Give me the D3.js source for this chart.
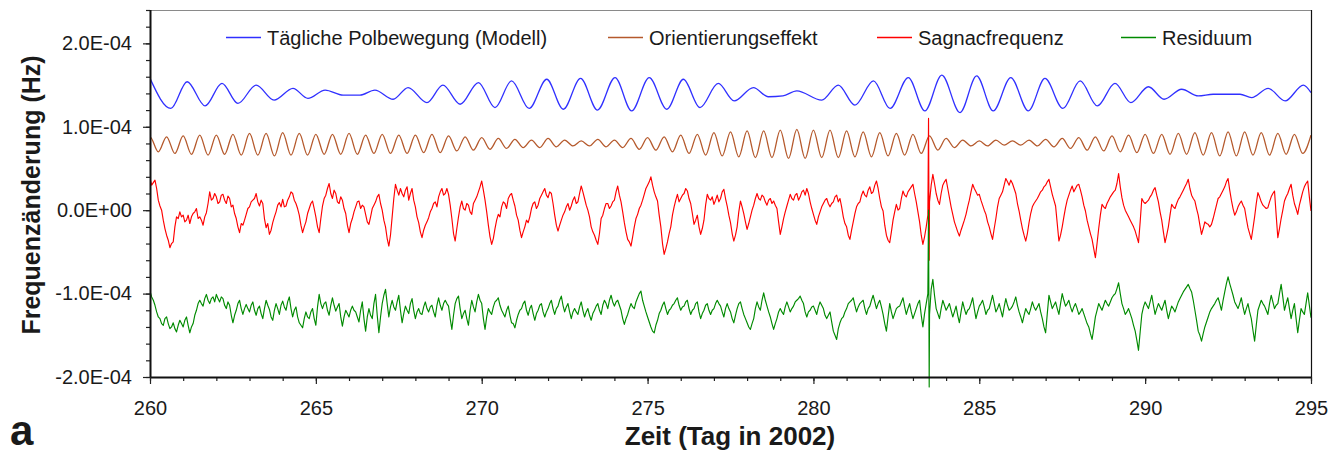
<!DOCTYPE html>
<html>
<head>
<meta charset="utf-8">
<script src="https://cdn.jsdelivr.net/npm/d3@7"></script>
<style>
  body { margin: 0; background: #fff; }
  text { font-family: "Liberation Sans", Arial, sans-serif; fill: #1a1a1a; }
</style>
</head>
<body>
<script>
// values in 1e-6 Hz
const legendLabels = ["Tägliche Polbewegung (Modell)", "Orientierungseffekt", "Sagnacfrequenz", "Residuum"];
const seriesColors = ["#3030ff", "#b5592c", "#ff0000", "#008a00"];

const xMajor = [260, 265, 270, 275, 280, 285, 290, 295];
const yMajor = [-200, -100, 0, 100, 200];

// daily polar motion: extrema
const blueDays = [260.00, 260.63, 261.12, 261.66, 262.17, 262.65, 263.20, 263.74, 264.31, 264.76,
  265.28, 265.82, 266.33, 266.78, 267.33, 267.78, 268.35, 268.83, 269.35, 269.90,
  270.40, 270.90, 271.43, 271.96, 272.46, 272.98, 273.49, 274.02, 274.52, 275.05,
  275.58, 276.08, 276.58, 277.13, 277.61, 278.19, 278.64, 279.08, 279.50, 280.25,
  280.75, 281.25, 281.81, 282.31, 282.86, 283.36, 283.87, 284.42, 284.92, 285.42,
  285.95, 286.48, 286.98, 287.52, 288.04, 288.56, 289.09, 289.57, 290.10, 290.57,
  291.10, 291.60, 292.05, 292.86, 293.21, 293.71, 294.22, 294.77, 295.00];
const blueVals = [158, 122, 154, 125, 152, 128, 150, 132, 146, 134,
  144, 138, 138, 144, 133, 147, 129, 150, 127, 153,
  123, 155, 122, 157, 121, 158, 120, 159, 119, 159,
  121, 157, 123, 152, 131, 147, 136, 137, 143, 132,
  150, 126, 155, 122, 159, 119, 162, 117, 161, 119,
  159, 119, 158, 122, 155, 125, 152, 129, 148, 133,
  145, 137, 139, 139, 135, 146, 131, 150, 141];

// orientation effect: alternating troughs / peaks every quarter day from 259.75
const brownStart = 259.75;
const brownStep = 0.25;
const brownVals = [70, 88,
  70, 88, 68, 89,  67, 90, 66, 90,  67, 91, 66, 92,  66, 92, 65, 93,  66, 92, 66, 91,
  67, 91, 67, 92,  67, 90, 68, 91,  68, 90, 68, 90,  69, 91, 69, 89,  71, 88, 72, 87,
  73, 86, 74, 85,  75, 84, 75, 86,  76, 84, 77, 83,  77, 85, 76, 84,  75, 86, 73, 87,
  72, 88, 70, 90,  68, 91, 66, 93,  65, 94, 64, 95,  63, 95, 63, 96,  62, 97, 62, 96,
  63, 96, 63, 95,  64, 94, 64, 93,  65, 92, 66, 91,  68, 89, 72, 86,  75, 84, 77, 83,
  77, 84, 78, 83,  78, 84, 77, 85,  76, 86, 74, 87,  72, 88, 71, 89,  70, 90, 69, 91,
  68, 91, 67, 92,  67, 93, 66, 93,  65, 94, 65, 94,  66, 93, 66, 92,  67, 91, 68, 90];

// measured series: samples every 0.1 day from day 260, plus the in-between samples
const sampleStart = 260;
const sampleStep = 0.1;
const redVals = [
  38, 33, 26, 5, -12, -30, -45, -38, -8, -2,
  -6, -12, -16, -4, 2, -8, -18, -3, 22, 14,
  16, 10, 19, 8, 14, 6, -10, -27, -18, -5,
  4, 12, 20, 5, 8, -21, -29, -15, -2, 9,
  13, 5, 16, 20, 8, -6, -27, -14, 2, 11,
  -8, -27, 5, 18, 32, 14, 20, 8, 12, -4,
  -27, -10, 4, 11, 6, -5, -17, 2, 10, 19,
  0, -20, -43, -8, 31, 18, 20, 24, 12, 26,
  4, -15, -33, -18, -9, 2, 10, 16, 26, 20,
  19, -10, -37, -8, 11, 0, 6, -5, 12, 22,
  35, 12, -18, -41, -22, -5, 4, 8, 14, 20,
  5, -12, -33, -20, -15, 2, 10, 6, 18, 26,
  15, 20, -6, -25, -12, -2, 8, 5, 16, 10,
  29, 14, 0, -20, -30, -41, -10, 2, 8, 5,
  12, 29, 10, -15, -35, -43, -20, -5, 6, 19,
  30, 40, 22, 11, -20, -53, -38, -20, 4, 19,
  14, 20, 23, 8, -17, -6, -29, -12, 19, 12,
  7, 18, 14, 25, 5, -15, -37, -20, 11, -4,
  -23, -8, 6, 20, 12, 16, 6, 14, 11, 2,
  -29, -10, 5, 19, 12, 20, 16, 24, 26, 10,
  -5, -17, -2, 8, 14, 4, 10, 18, 14, -8,
  -20, -35, -14, 4, 10, 23, 16, 28, 22, 35,
  14, -1, -30, -39, -12, 7, 2, 23, 16, 25,
  31, 10, -14, -41, -20, 10, 43, 20, 7, 30,
  37, 15, -5, -20, -31, -18, -5, 12, 31, 22,
  19, 6, -5, -20, -35, -10, 14, 22, 38, 30,
  32, 20, -1, -22, -37, -15, 4, 11, 18, 24,
  30, 37, 19, 5, -37, -20, 3, 18, 29, 26,
  31, 16, -1, -20, -35, -57, -22, 7, 2, 12,
  19, 24, 44, 15, 0, -8, -16, -25, -39, 14,
  8, 12, 19, 27, 10, -12, -39, -20, 7, 2,
  13, 20, 28, 37, 18, 11, -6, -29, -14, -17,
  -17, -2, 14, 20, 28, 38, 12, -6, 4, 11,
  2, -21, -35, -8, 21, 10, 4, 3, 16, 23,
  -33, -10, 11, 20, 31, 8, -5, 14, 28, 35,
  -1];
const redMid = [
  30, 36, 12, 0, -22, -36, -40, -20, -10, -8,
  -14, -6, -8, -2, -10, -12, -8, 8, 12, 20,
  8, 18, 12, 17, 4, -4, -20, -16, -12, 2,
  10, 14, 10, 12, -10, -16, -24, -8, 6, 4,
  4, 12, 22, 12, 2, -18, -20, -4, 8, 2,
  -20, -10, 14, 26, 20, 24, 10, 16, 2, -18,
  -16, -2, 10, 2, 4, -14, -8, 6, 16, 8,
  -12, -34, -30, 14, 24, 26, 16, 28, 20, 12,
  -8, -26, -24, -14, -2, 8, 4, 22, 18, 26,
  6, -28, -22, 4, 2, 8, -2, 8, 16, 28,
  24, -2, -32, -34, -12, -8, 10, 2, 18, 12,
  -6, -24, -26, -12, -8, 8, 2, 14, 22, 18,
  22, 8, -18, -18, -6, 4, 0, 12, 8, 20,
  22, 6, -8, -26, -36, -28, -6, 8, 2, 10,
  22, 18, -2, -26, -38, -32, -10, 2, 12, 26,
  34, 30, 16, -6, -40, -46, -28, -6, 12, 10,
  18, 26, 14, -4, -12, -20, -22, 6, 14, 16,
  12, 10, 22, 14, -6, -28, -30, -2, 4, -14,
  -16, 0, 14, 14, 18, 10, 12, 8, 6, -14,
  -20, -2, 12, 14, 18, 12, 22, 18, 20, 2,
  -12, -8, 4, 12, 8, 8, 16, 10, 4, -16,
  -30, -24, -4, 8, 18, 18, 24, 20, 30, 26,
  4, -18, -36, -26, -2, 0, 14, 18, 22, 28,
  20, -2, -30, -32, -6, 30, 32, 12, 20, 34,
  26, 4, -14, -26, -24, -12, 4, 22, 26, 18,
  12, 0, -14, -28, -22, 4, 18, 30, 34, 36,
  26, 8, -12, -30, -28, -4, 8, 14, 22, 28,
  34, 28, 12, -16, -30, -8, 12, 24, 22, 30,
  24, 6, -12, -28, -46, -40, -6, 4, 8, 16,
  22, 32, 28, 6, -4, -12, -20, -32, -14, 10,
  10, 16, 24, 18, -2, -26, -30, -6, 4, 8,
  16, 24, 32, 26, 14, 2, -18, -22, -16, -20,
  -10, 6, 16, 24, 34, 24, 2, -2, 8, 6,
  -10, -28, -22, 8, 16, 6, 2, 10, 20, -6,
  -22, 0, 16, 26, 18, 2, 6, 22, 32, 16];
const greenVals = [
  -97, -108, -122, -130, -138, -128, -142, -135, -146, -132,
  -140, -128, -147, -136, -120, -108, -115, -101, -112, -104,
  -101, -110, -106, -118, -114, -135, -120, -108, -125, -113,
  -122, -110, -126, -115, -130, -108, -119, -132, -112, -125,
  -109, -120, -104, -128, -116, -135, -141, -122, -130, -118,
  -138, -101, -118, -110, -126, -105, -121, -112, -139, -120,
  -128, -115, -122, -134, -110, -145, -118, -130, -101, -147,
  -112, -95, -128, -108, -120, -102, -135, -115, -124, -106,
  -130, -118, -125, -110, -122, -114, -128, -105, -120, -108,
  -115, -143, -112, -103, -130, -120, -138, -108, -122, -101,
  -112, -143, -118, -125, -110, -105, -120, -128, -115, -135,
  -141, -125, -118, -109, -126, -114, -132, -120, -112, -128,
  -118, -108, -125, -115, -103, -122, -112, -130, -118, -125,
  -110, -128, -118, -132, -120, -112, -125, -108, -118, -102,
  -115, -108, -120, -137, -125, -112, -118, -105, -97, -115,
  -128, -140, -147, -132, -120, -110, -125, -118, -112, -105,
  -120, -115, -108, -125, -118, -110, -130, -120, -112, -125,
  -118, -108, -115, -128, -112, -122, -135, -118, -110, -125,
  -135, -143, -130, -110, -120, -99, -115, -128, -143, -130,
  -118, -125, -110, -122, -115, -108, -103, -112, -128, -120,
  -115, -125, -110, -118, -130, -122, -145, -155, -135, -128,
  -118, -110, -105, -122, -112, -108, -125, -115, -102, -118,
  -108, -125, -145, -112, -130, -118, -115, -105, -125, -112,
  -130, -118, -108, -140, -112, -125, -83, -118, -130, -108,
  -120, -112, -128, -115, -135, -110, -125, -118, -105, -130,
  -115, -108, -125, -118, -102, -122, -112, -128, -106, -120,
  -115, -104, -122, -135, -118, -125, -110, -120, -112, -130,
  -147, -102, -118, -110, -125, -100, -115, -108, -122, -112,
  -125, -118, -130, -140, -155, -128, -112, -120, -108, -115,
  -105, -100, -87, -112, -125, -118, -130, -145, -168, -125,
  -110, -118, -102, -125, -112, -120, -108, -130, -115, -122,
  -110, -102, -95, -89, -98, -120, -145, -157, -140, -128,
  -118, -112, -105, -120, -98, -80, -95, -110, -118, -105,
  -125, -112, -130, -157, -120, -108, -115, -125, -102, -118,
  -112, -89, -120, -105, -130, -112, -147, -118, -125, -99,
  -129];
const greenMid = [
  -104, -114, -128, -136, -130, -136, -140, -142, -138, -136,
  -132, -138, -140, -126, -112, -112, -106, -108, -106, -110,
  -106, -104, -114, -110, -126, -126, -112, -118, -118, -118,
  -114, -120, -118, -124, -118, -114, -128, -120, -118, -114,
  -116, -110, -118, -120, -128, -138, -130, -128, -122, -130,
  -116, -112, -112, -120, -114, -114, -116, -128, -128, -124,
  -120, -120, -128, -120, -130, -128, -126, -112, -126, -128,
  -102, -112, -116, -116, -110, -120, -124, -120, -112, -120,
  -122, -124, -116, -118, -116, -122, -114, -114, -112, -112,
  -130, -126, -106, -118, -124, -130, -120, -116, -110, -108,
  -130, -128, -122, -116, -108, -114, -124, -120, -126, -136,
  -132, -120, -112, -120, -118, -124, -124, -114, -122, -122,
  -112, -118, -118, -108, -114, -116, -122, -122, -122, -116,
  -120, -122, -126, -124, -115, -120, -114, -112, -108, -110,
  -110, -114, -130, -130, -118, -116, -110, -100, -108, -122,
  -134, -145, -138, -124, -114, -118, -120, -114, -108, -114,
  -116, -110, -118, -120, -112, -122, -124, -114, -120, -120,
  -112, -112, -122, -118, -118, -130, -126, -112, -118, -130,
  -140, -136, -118, -116, -108, -108, -122, -136, -136, -122,
  -122, -116, -116, -118, -110, -106, -108, -122, -122, -116,
  -120, -116, -114, -126, -126, -134, -150, -142, -130, -122,
  -112, -108, -114, -116, -110, -118, -118, -108, -110, -112,
  -116, -136, -128, -122, -124, -116, -110, -116, -118, -122,
  -124, -112, -126, -124, -100, -95, -102, -124, -118, -114,
  -116, -120, -122, -126, -122, -118, -120, -112, -118, -122,
  -112, -116, -120, -110, -112, -118, -120, -116, -114, -118,
  -110, -114, -128, -126, -122, -118, -116, -116, -122, -140,
  -124, -110, -114, -118, -112, -108, -112, -116, -116, -118,
  -122, -124, -136, -148, -142, -120, -116, -114, -112, -110,
  -102, -94, -100, -118, -122, -124, -138, -156, -146, -116,
  -114, -110, -114, -118, -116, -114, -120, -122, -118, -116,
  -106, -98, -92, -94, -108, -132, -150, -148, -134, -122,
  -115, -108, -112, -108, -88, -88, -102, -114, -112, -116,
  -118, -122, -144, -138, -114, -112, -120, -112, -110, -114,
  -100, -104, -112, -118, -120, -130, -132, -122, -112, -114];

// the jump at day 283.5
const redSpikeDays = [283.47, 283.49];
const redSpikeVals = [110, -60];
const greenSpikeDays = [283.47, 283.49];
const greenSpikeVals = [0, -212];

const width = 1334, height = 456;
const plot = { left: 150, right: 1311, top: 10, bottom: 377 };

const svg = d3.select("body").append("svg")
  .attr("width", width)
  .attr("height", height);

const x = d3.scaleLinear().domain([260, 295]).range([plot.left, plot.right]);
const y = d3.scaleLinear().domain([-200e-6, 240e-6]).range([plot.bottom, plot.top]);

svg.append("clipPath").attr("id", "clip")
  .append("rect")
  .attr("x", plot.left).attr("y", 0)
  .attr("width", plot.right - plot.left).attr("height", height);

function gridSeries(start, step, vals) {
  return vals.map((v, i) => ({ day: start + i * step, v: v * 1e-6 }));
}
function measured(vals, mids, spikeDays, spikeVals) {
  return gridSeries(sampleStart, sampleStep, vals)
    .concat(gridSeries(sampleStart + sampleStep / 2, sampleStep, mids))
    .concat(spikeDays.map((d, i) => ({ day: d, v: spikeVals[i] * 1e-6 })))
    .sort((a, b) => a.day - b.day);
}

const blue = blueDays.map((d, i) => ({ day: d, v: blueVals[i] * 1e-6 }));
const brown = gridSeries(brownStart, brownStep, brownVals);
const red = measured(redVals, redMid, redSpikeDays, redSpikeVals);
const green = measured(greenVals, greenMid, greenSpikeDays, greenSpikeVals);

const smooth = d3.line().x(d => x(d.day)).y(d => y(d.v)).curve(d3.curveMonotoneX);
const jagged = d3.line().x(d => x(d.day)).y(d => y(d.v));

const lines = svg.append("g").attr("clip-path", "url(#clip)");
[[blue, smooth, 1.3], [brown, smooth, 1.3], [red, jagged, 1.15], [green, jagged, 1.15]].forEach(([data, gen, w], i) => {
  lines.append("path")
    .datum(data)
    .attr("fill", "none")
    .attr("stroke", seriesColors[i])
    .attr("stroke-width", w)
    .attr("stroke-linejoin", "round")
    .attr("d", gen);
});

// frame
svg.append("line").attr("x1", plot.left).attr("x2", plot.right).attr("y1", plot.top + 0.5).attr("y2", plot.top + 0.5)
  .attr("stroke", "#8a8a8a").attr("stroke-width", 1.2);
svg.append("line").attr("x1", plot.right + 0.5).attr("x2", plot.right + 0.5).attr("y1", plot.top).attr("y2", plot.bottom)
  .attr("stroke", "#111").attr("stroke-width", 1.2);

// y axis
const fmt = v => {
  const [m, e] = d3.format(".1e")(v).split("e");
  const n = +e;
  return m.replace("−", "-") + "E" + (n < 0 ? "-" : "+") + String(Math.abs(n)).padStart(2, "0");
};
svg.append("g")
  .attr("transform", `translate(${plot.left},0)`)
  .call(d3.axisLeft(y).tickValues(d3.range(-200, 241, 20).map(v => v * 1e-6)).tickSize(4).tickFormat(""))
  .call(g => g.select(".domain").remove())
  .selectAll("line").attr("stroke", "#222").attr("stroke-width", 1.2);
const yAxis = svg.append("g")
  .attr("transform", `translate(${plot.left},0)`)
  .call(d3.axisLeft(y).tickValues(yMajor.map(v => v * 1e-6)).tickSize(7).tickPadding(11).tickFormat(fmt));
yAxis.select(".domain").attr("d", `M0.5,${plot.top}V${plot.bottom}`).attr("stroke", "#111").attr("stroke-width", 2);
yAxis.selectAll("line").attr("stroke", "#222").attr("stroke-width", 1.2);
yAxis.selectAll("text").style("font-size", "20px").attr("fill", "#1a1a1a");

// x axis
svg.append("g")
  .attr("transform", `translate(0,${plot.bottom})`)
  .call(d3.axisBottom(x).tickValues(d3.range(260, 296, 1)).tickSize(4).tickFormat(""))
  .call(g => g.select(".domain").remove())
  .selectAll("line").attr("stroke", "#222").attr("stroke-width", 1.2);
const xAxis = svg.append("g")
  .attr("transform", `translate(0,${plot.bottom})`)
  .call(d3.axisBottom(x).tickValues(xMajor).tickSize(7).tickPadding(17).tickFormat(d3.format("d")));
xAxis.select(".domain").attr("d", `M${plot.left},0.5H${plot.right + 1}`).attr("stroke", "#111").attr("stroke-width", 2);
xAxis.selectAll("line").attr("stroke", "#222").attr("stroke-width", 1.2);
xAxis.selectAll("text").style("font-size", "20px").attr("fill", "#1a1a1a");

// titles
svg.append("text")
  .attr("x", 730).attr("y", 445)
  .attr("text-anchor", "middle")
  .style("font-size", "26px").style("font-weight", "bold")
  .text("Zeit (Tag in 2002)");
svg.append("text")
  .attr("transform", "translate(40,195) rotate(-90)")
  .attr("text-anchor", "middle")
  .style("font-size", "25px").style("font-weight", "bold")
  .text("Frequenzänderung (Hz)");
svg.append("text")
  .attr("x", 10).attr("y", 445)
  .style("font-size", "42px").style("font-weight", "bold")
  .text("a");

// legend
const legendX = [226, 608, 877, 1121];
legendLabels.forEach((label, i) => {
  svg.append("line")
    .attr("x1", legendX[i]).attr("x2", legendX[i] + 35)
    .attr("y1", 37.5).attr("y2", 37.5)
    .attr("stroke", seriesColors[i]).attr("stroke-width", 1.3);
  svg.append("text")
    .attr("x", legendX[i] + 41).attr("y", 44.5)
    .style("font-size", "20px")
    .text(label);
});
</script>
</body>
</html>
